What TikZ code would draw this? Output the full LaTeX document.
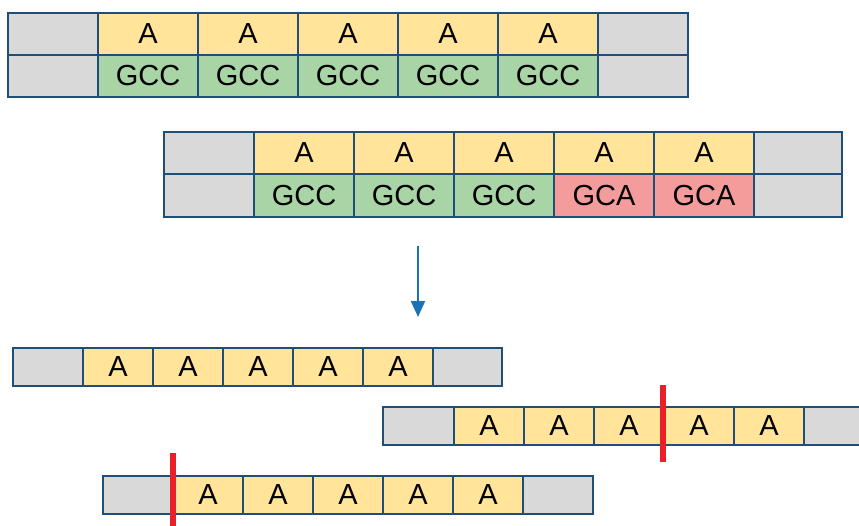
\documentclass[tikz,border=0pt]{standalone}
\usepackage{fontspec}
\setmainfont{Liberation Sans}
\usetikzlibrary{arrows.meta}
\definecolor{yel}{HTML}{FFE499}
\definecolor{grn}{HTML}{A9D4A6}
\definecolor{pnk}{HTML}{F49B9B}
\definecolor{gry}{HTML}{D9D9D9}
\definecolor{bord}{HTML}{1F4E79}
\definecolor{arr}{HTML}{1A72B8}
\definecolor{redbar}{HTML}{E8202A}
\begin{document}
\begin{tikzpicture}[x=1pt,y=-1pt,
  cell/.style={draw=bord, line width=1.1pt, anchor=north west, inner sep=0pt, outer sep=0pt,
    font=\fontsize{29}{29}\selectfont},
  big/.style={cell, minimum width=100pt, minimum height=42pt},
  small/.style={cell, minimum width=70pt, minimum height=38pt},
  frame/.style={draw=bord, line width=1.6pt},
  cutbar/.style={draw=redbar, line width=6pt},
  flow/.style={draw=arr, line width=2pt, -{Triangle[width=14pt,length=16pt]}}]
\useasboundingbox (0,0) rectangle (859,525);
% ---------- top block ----------
\node[big, fill=gry, minimum width=90pt] (t0a) at (8,13) {};
\node[big, fill=gry, minimum width=90pt] (t0b) at (8,55) {};
\foreach \i in {1,...,5}{
  \node[big, fill=yel] (t\i a) at ({98+100*(\i-1)},13) {A};
  \node[big, fill=grn] (t\i b) at ({98+100*(\i-1)},55) {GCC};
}
\node[big, fill=gry, minimum width=90pt] (t6a) at (598,13) {};
\node[big, fill=gry, minimum width=90pt] (t6b) at (598,55) {};
\draw[frame] (t0a.north west) rectangle (t6b.south east);
% ---------- second block ----------
\node[big, fill=gry, minimum width=90pt] (s0a) at (164,132) {};
\node[big, fill=gry, minimum width=90pt, minimum height=43pt] (s0b) at (164,174) {};
\foreach \i/\t/\c in {1/GCC/grn,2/GCC/grn,3/GCC/grn,4/GCA/pnk,5/GCA/pnk}{
  \node[big, fill=yel] (s\i a) at ({254+100*(\i-1)},132) {A};
  \node[big, fill=\c, minimum height=43pt] (s\i b) at ({254+100*(\i-1)},174) {\t};
}
\node[big, fill=gry, minimum width=88pt] (s6a) at (754,132) {};
\node[big, fill=gry, minimum width=88pt, minimum height=43pt] (s6b) at (754,174) {};
\draw[frame] (s0a.north west) rectangle (s6b.south east);
% ---------- arrow ----------
\coordinate (arrS) at (418,246);
\coordinate (arrE) at (418,317);
\draw[flow] (arrS) -- (arrE);
% ---------- bottom row 1 ----------
\node[small, fill=gry] (r0) at (13,348) {};
\foreach \i in {1,...,5}{
  \node[small, fill=yel] (r\i) at ({83+70*(\i-1)},348) {A};
}
\node[small, fill=gry, minimum width=69pt] (r6) at (433,348) {};
\draw[frame] (r0.north west) rectangle (r6.south east);
% ---------- bottom row 2 ----------
\node[small, fill=gry, minimum width=71pt] (p0) at (383,407) {};
\foreach \i in {1,...,5}{
  \node[small, fill=yel] (p\i) at ({454+70*(\i-1)},407) {A};
}
\node[small, fill=gry] (p6) at (804,407) {};
\draw[frame] (p0.north west) rectangle (p6.south east);
% ---------- bottom row 3 ----------
\node[small, fill=gry] (q0) at (103,476) {};
\foreach \i in {1,...,5}{
  \node[small, fill=yel] (q\i) at ({173+70*(\i-1)},476) {A};
}
\node[small, fill=gry] (q6) at (523,476) {};
\draw[frame] (q0.north west) rectangle (q6.south east);
% ---------- red cut bars ----------
\coordinate (c1t) at (663,385);
\coordinate (c1b) at (663,462);
\draw[cutbar] (c1t) -- (c1b);
\coordinate (c2t) at (173,453);
\coordinate (c2b) at (173,526);
\draw[cutbar] (c2t) -- (c2b);
\end{tikzpicture}
\end{document}
